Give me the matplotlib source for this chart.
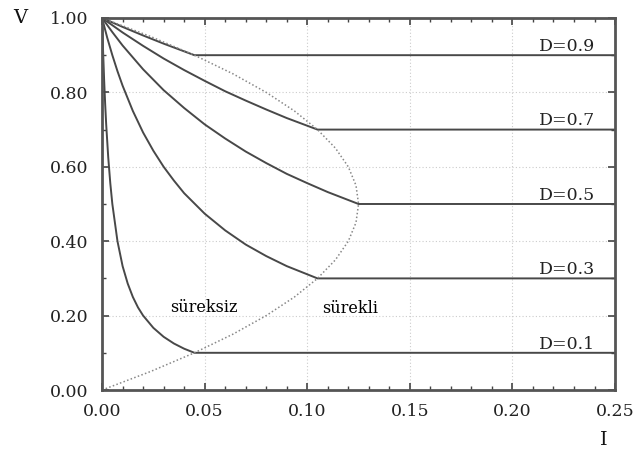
import matplotlib
matplotlib.use("Agg")
import matplotlib.pyplot as plt
from matplotlib.ticker import MultipleLocator

plt.rcParams['font.family'] = ['DejaVu Serif']

# Duty-cycle labels
duty = [0.1, 0.3, 0.5, 0.7, 0.9]
labels = ["D=0.1", "D=0.3", "D=0.5", "D=0.7", "D=0.9"]

# Discontinuous-mode curves (I, V)
I_d01 = [0, 0.00025, 0.0005, 0.001, 0.0015, 0.002, 0.003, 0.004, 0.005, 0.0075, 0.01, 0.0125,
         0.015, 0.0175, 0.02, 0.025, 0.03, 0.035, 0.04, 0.045]
V_d01 = [1.0, 0.952, 0.909, 0.833, 0.769, 0.714, 0.625, 0.556, 0.5, 0.4, 0.333, 0.286,
         0.25, 0.222, 0.2, 0.167, 0.143, 0.125, 0.111, 0.1]

I_d03 = [0, 0.0025, 0.005, 0.0075, 0.01, 0.015, 0.02, 0.025, 0.03, 0.035, 0.04, 0.05, 0.06,
         0.07, 0.08, 0.09, 0.105]
V_d03 = [1.0, 0.947, 0.9, 0.857, 0.818, 0.75, 0.692, 0.643, 0.6, 0.563, 0.529, 0.474, 0.429,
         0.391, 0.36, 0.333, 0.3]

I_d05 = [0, 0.005, 0.01, 0.02, 0.03, 0.04, 0.05, 0.06, 0.07, 0.08, 0.09, 0.1, 0.11, 0.125]
V_d05 = [1.0, 0.962, 0.926, 0.862, 0.806, 0.758, 0.714, 0.676, 0.641, 0.61, 0.581, 0.556, 0.532, 0.5]

I_d07 = [0, 0.01, 0.02, 0.03, 0.04, 0.05, 0.06, 0.07, 0.08, 0.09, 0.105]
V_d07 = [1.0, 0.961, 0.925, 0.891, 0.86, 0.831, 0.803, 0.778, 0.754, 0.731, 0.7]

I_d09 = [0, 0.01, 0.02, 0.03, 0.045]
V_d09 = [1.0, 0.976, 0.953, 0.931, 0.9]

dcm_I = [I_d01, I_d03, I_d05, I_d07, I_d09]
dcm_V = [V_d01, V_d03, V_d05, V_d07, V_d09]

# Boundary between continuous / discontinuous modes
V_b = [0, 0.05, 0.1, 0.15, 0.2, 0.25, 0.3, 0.35, 0.4, 0.45, 0.5,
       0.55, 0.6, 0.65, 0.7, 0.75, 0.8, 0.85, 0.9, 0.95, 1.0]
I_b = [0, 0.02375, 0.045, 0.06375, 0.08, 0.09375, 0.105, 0.11375, 0.12, 0.12375, 0.125,
       0.12375, 0.12, 0.11375, 0.105, 0.09375, 0.08, 0.06375, 0.045, 0.02375, 0]

I_max = 0.25

fig = plt.figure(figsize=(6.38, 4.61), dpi=100)
ax = fig.add_axes([0.160, 0.154, 0.804, 0.807])

line_col = '#484848'
for Iv, Vv, d in zip(dcm_I, dcm_V, duty):
    ax.plot(Iv + [I_max], Vv + [d], color=line_col, lw=1.4, solid_capstyle='butt')

ax.plot(I_b, V_b, color='#888888', lw=1.1, linestyle=(0, (1, 1.5)))

for d, lab in zip(duty, labels):
    ax.text(0.2266, d + 0.011, lab, ha='center', va='baseline', fontsize=12.5, color='#222222')

ax.text(0.0495, 0.21, "süreksiz", ha='center', va='baseline', fontsize=11.5, color='#000000')
ax.text(0.1209, 0.207, "sürekli", ha='center', va='baseline', fontsize=11.5, color='#000000')

ax.set_xlim(0, 0.25)
ax.set_ylim(0, 1.0)
ax.xaxis.set_major_locator(MultipleLocator(0.05))
ax.xaxis.set_minor_locator(MultipleLocator(0.01))
ax.yaxis.set_major_locator(MultipleLocator(0.2))
ax.yaxis.set_minor_locator(MultipleLocator(0.1))
ax.xaxis.set_major_formatter(plt.FuncFormatter(lambda v, p: f"{v:.2f}"))
ax.yaxis.set_major_formatter(plt.FuncFormatter(lambda v, p: f"{v:.2f}"))

ax.tick_params(which='both', direction='in', top=True, right=True, colors='#444444',
               labelcolor='#222222', labelsize=12.5)
ax.tick_params(which='major', length=5, width=1.2)
ax.tick_params(which='minor', length=3, width=1.0)
ax.tick_params(axis='y', pad=10)
ax.tick_params(axis='x', pad=9)

ax.grid(True, which='major', color='#cccccc', lw=0.8, linestyle=(0, (1, 2)))
for s in ax.spines.values():
    s.set_linewidth(2.0)
    s.set_color('#555555')

fig.text(20 / 638, 1 - 18 / 461, "V", ha='center', va='center', fontsize=14, color='#111111')
fig.text(604 / 638, 1 - 440 / 461, "I", ha='center', va='center', fontsize=14, color='#111111')

fig.savefig("out.png", dpi=100)
